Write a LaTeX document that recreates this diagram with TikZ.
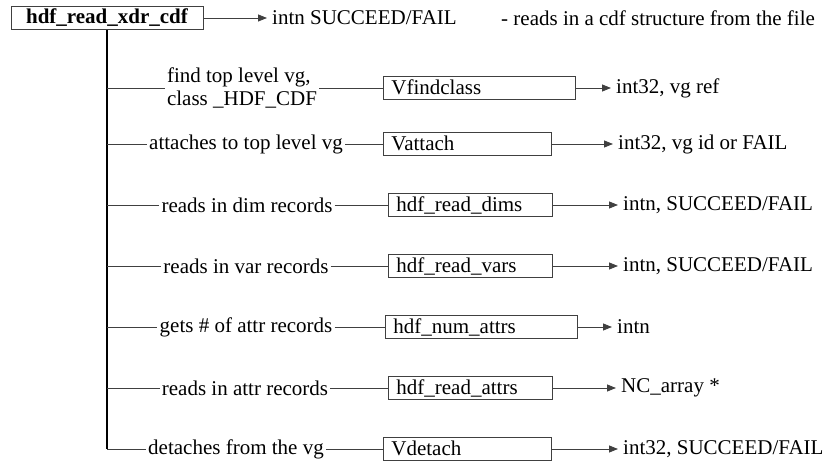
\documentclass[tikz,border=0pt]{standalone}
\usepackage{fontspec}
\setmainfont{Liberation Serif}
\usetikzlibrary{arrows.meta,positioning}

\begin{document}
\begin{tikzpicture}[x=1pt,y=-1pt,
            font=\fontsize{21}{23}\selectfont,
            top/.style={rectangle, draw=black!75, line width=0.9pt, minimum width=192pt, text height=15pt, text depth=4pt, inner ysep=2pt, font=\fontsize{21}{23}\selectfont\bfseries},
            func/.style={rectangle, draw=black!75, line width=0.8pt, anchor=west, text width=#1, align=left, inner xsep=8pt, text height=16pt, text depth=3pt, inner ysep=2pt},
            note/.style={inner sep=2pt},
            ret/.style={anchor=west, inner sep=5pt},
            link/.style={draw=black!75, line width=0.8pt},
            trunk/.style={draw=black, line width=1.8pt},
            retarrow/.style={link, -{Triangle[length=9pt,width=7pt]}}]
            \useasboundingbox (0,0) rectangle (833,470);

            % Main routine
            \node[top] (xdrcdf) at (107,18) {hdf\_read\_xdr\_cdf};
            \node[ret] (rmain) at (267,18) {intn SUCCEED/FAIL};
            \node[ret] (desc) at (496,18) {- reads in a cdf structure from the file};

            % What each call does
            \node[note, align=left] (lfind) at (242,88) {find top level vg,\\class \_HDF\_CDF};
            \node[note] (lattach) at (246,144) {attaches to top level vg};
            \node[note] (ldims) at (247,205) {reads in dim records};
            \node[note] (lvars) at (246,266) {reads in var records};
            \node[note] (lnum) at (246,327) {gets \# of attr records};
            \node[note] (lattrs) at (245,388) {reads in attr records};
            \node[note] (ldetach) at (236,449) {detaches from the vg};

            % Called routines
            \node[func=176pt] (findclass) at (383,88) {Vfindclass};
            \node[func=152pt] (attach) at (383,144) {Vattach};
            \node[func=148pt] (dims) at (388,205) {hdf\_read\_dims};
            \node[func=148pt] (vars) at (388,266) {hdf\_read\_vars};
            \node[func=176pt] (numattrs) at (385,327) {hdf\_num\_attrs};
            \node[func=148pt] (attrs) at (388,388) {hdf\_read\_attrs};
            \node[func=152pt] (detach) at (383,449) {Vdetach};

            % Return values
            \node[ret] (rfind) at (611,88) {int32, vg ref};
            \node[ret] (rattach) at (613,144) {int32, vg id or FAIL};
            \node[ret] (rdims) at (618,205) {intn, SUCCEED/FAIL};
            \node[ret] (rvars) at (618,266) {intn, SUCCEED/FAIL};
            \node[ret] (rnum) at (612,327) {intn};
            \node[ret] (rattrs) at (616,388) {NC\_array *};
            \node[ret] (rdetach) at (618,449) {int32, SUCCEED/FAIL};

            % Connections
            \draw[retarrow] (xdrcdf.east) -- (rmain.west);
            \draw[trunk] (xdrcdf.south) -- (xdrcdf.south |- ldetach.west);
            \draw[link] (xdrcdf.south |- ldetach.west) -- (ldetach.west);

            \draw[link] (xdrcdf.south |- lfind.west) -- (lfind.west);
            \draw[link] (xdrcdf.south |- lattach.west) -- (lattach.west);
            \draw[link] (xdrcdf.south |- ldims.west) -- (ldims.west);
            \draw[link] (xdrcdf.south |- lvars.west) -- (lvars.west);
            \draw[link] (xdrcdf.south |- lnum.west) -- (lnum.west);
            \draw[link] (xdrcdf.south |- lattrs.west) -- (lattrs.west);

            \draw[link] (lfind.east) -- (findclass.west);
            \draw[link] (lattach.east) -- (attach.west);
            \draw[link] (ldims.east) -- (dims.west);
            \draw[link] (lvars.east) -- (vars.west);
            \draw[link] (lnum.east) -- (numattrs.west);
            \draw[link] (lattrs.east) -- (attrs.west);
            \draw[link] (ldetach.east) -- (detach.west);

            \draw[retarrow] (findclass.east) -- (rfind.west);
            \draw[retarrow] (attach.east) -- (rattach.west);
            \draw[retarrow] (dims.east) -- (rdims.west);
            \draw[retarrow] (vars.east) -- (rvars.west);
            \draw[retarrow] (numattrs.east) -- (rnum.west);
            \draw[retarrow] (attrs.east) -- (rattrs.west);
            \draw[retarrow] (detach.east) -- (rdetach.west);
        \end{tikzpicture}
\end{document}
